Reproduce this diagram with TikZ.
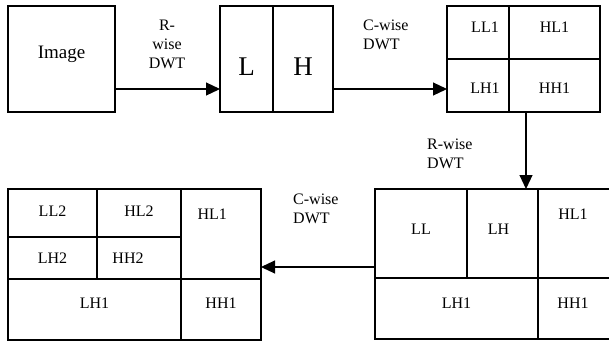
\documentclass[tikz,border=0pt]{standalone}
\usepackage{fontspec}
\setmainfont{Liberation Serif}
\usetikzlibrary{positioning,arrows.meta}

\begin{document}
\begin{tikzpicture}[
  x=1pt, y=-1pt,
  font=\fontsize{16}{19}\selectfont,
  cell/.style={draw, line width=1.1pt, inner sep=0pt, outer sep=0pt},
  arr/.style={-{Triangle[length=14pt,width=13pt]}, line width=1.1pt},
  lbl/.style={align=left, anchor=west, inner sep=0pt}
]
\useasboundingbox (0,0) rectangle (609,341);
\clip (0,0) rectangle (609,341);
% input image
\node[cell, minimum width=107pt, minimum height=106pt, label={[yshift=5pt, font=\fontsize{19}{22}\selectfont]center:Image}] at (61.5,59) (img) {};
% after row-wise DWT
\node[cell, minimum width=53pt, minimum height=106pt, label={[yshift=-8pt, font=\fontsize{27}{30}\selectfont]center:L}] at (246.5,59) (c2l) {};
\node[cell, minimum width=60pt, minimum height=106pt, label={[yshift=-8pt, font=\fontsize{27}{30}\selectfont]center:H}] at (303,59) (c2h) {};
% after column-wise DWT, level 1
\node[cell, minimum width=62pt, minimum height=53pt, label={[xshift=7pt, yshift=5pt]center:LL1}] at (478,32.5) (c3ll) {};
\node[cell, minimum width=91pt, minimum height=53pt, label={[yshift=5pt]center:HL1}] at (554.5,32.5) (c3hl) {};
\node[cell, minimum width=62pt, minimum height=53pt, label={[xshift=7pt, yshift=-3pt]center:LH1}] at (478,85.5) (c3lh) {};
\node[cell, minimum width=91pt, minimum height=53pt, label={[yshift=-3pt]center:HH1}] at (554.5,85.5) (c3hh) {};
% row-wise DWT on LL1
\node[cell, minimum width=92pt, minimum height=89pt, label={[yshift=4pt]center:LL}] at (421,233.5) (c4ll) {};
\node[cell, minimum width=71pt, minimum height=89pt, label={[xshift=-4pt, yshift=4pt]center:LH}] at (502.5,233.5) (c4lh) {};
\node[cell, minimum width=74pt, minimum height=89pt, label={[anchor=north, yshift=-16pt, xshift=-2pt]north:HL1}] at (575,233.5) (c4hl) {};
\node[cell, minimum width=163pt, minimum height=61pt, label={[yshift=5pt]center:LH1}] at (456.5,308.5) (c4lhb) {};
\node[cell, minimum width=74pt, minimum height=61pt, label={[yshift=5pt, xshift=-2pt]center:HH1}] at (575,308.5) (c4hh) {};
% column-wise DWT, level 2
\node[cell, minimum width=89pt, minimum height=48pt, label={[yshift=2pt]center:LL2}] at (52.5,213) (c5ll) {};
\node[cell, minimum width=84pt, minimum height=48pt, label={[yshift=2pt]center:HL2}] at (139,213) (c5hl2) {};
\node[cell, minimum width=80pt, minimum height=90pt, label={[anchor=north west, xshift=13pt, yshift=-16pt]north west:HL1}] at (221,234) (c5hl) {};
\node[cell, minimum width=89pt, minimum height=42pt] at (52.5,258) (c5lh2) {LH2};
\node[cell, minimum width=84pt, minimum height=42pt, label={[xshift=-11pt]center:HH2}] at (139,258) (c5hh2) {};
\node[cell, minimum width=173pt, minimum height=61pt, label={[yshift=6pt]center:LH1}] at (94.5,309.5) (c5lh) {};
\node[cell, minimum width=80pt, minimum height=61pt, label={[yshift=6pt]center:HH1}] at (221,309.5) (c5hh) {};
% labels
\node[align=center, inner sep=0pt] at (167,44) (lblr1) {R-\\wise\\DWT};
\node[lbl] at (363,35) (lblc1) {C-wise\\DWT};
\node[lbl] at (427,154) (lblr2) {R-wise\\DWT};
\node[lbl] at (293,208.5) (lblc2) {C-wise\\DWT};
% arrows
\draw[arr] ([yshift=-30pt]img.east) -- ([yshift=-30pt]img.east -| c2l.west);
\draw[arr] ([yshift=-30pt]c2h.east) -- ([yshift=-30pt]c2h.east -| c3lh.west);
\draw[arr] ([xshift=-28.5pt]c3hh.south) -- ([xshift=-28.5pt]c3hh.south |- c4lh.north);
\draw[arr] ([yshift=-33.5pt]c4ll.west) -- ([yshift=-33.5pt]c4ll.west -| c5hl.east);
\end{tikzpicture}
\end{document}
